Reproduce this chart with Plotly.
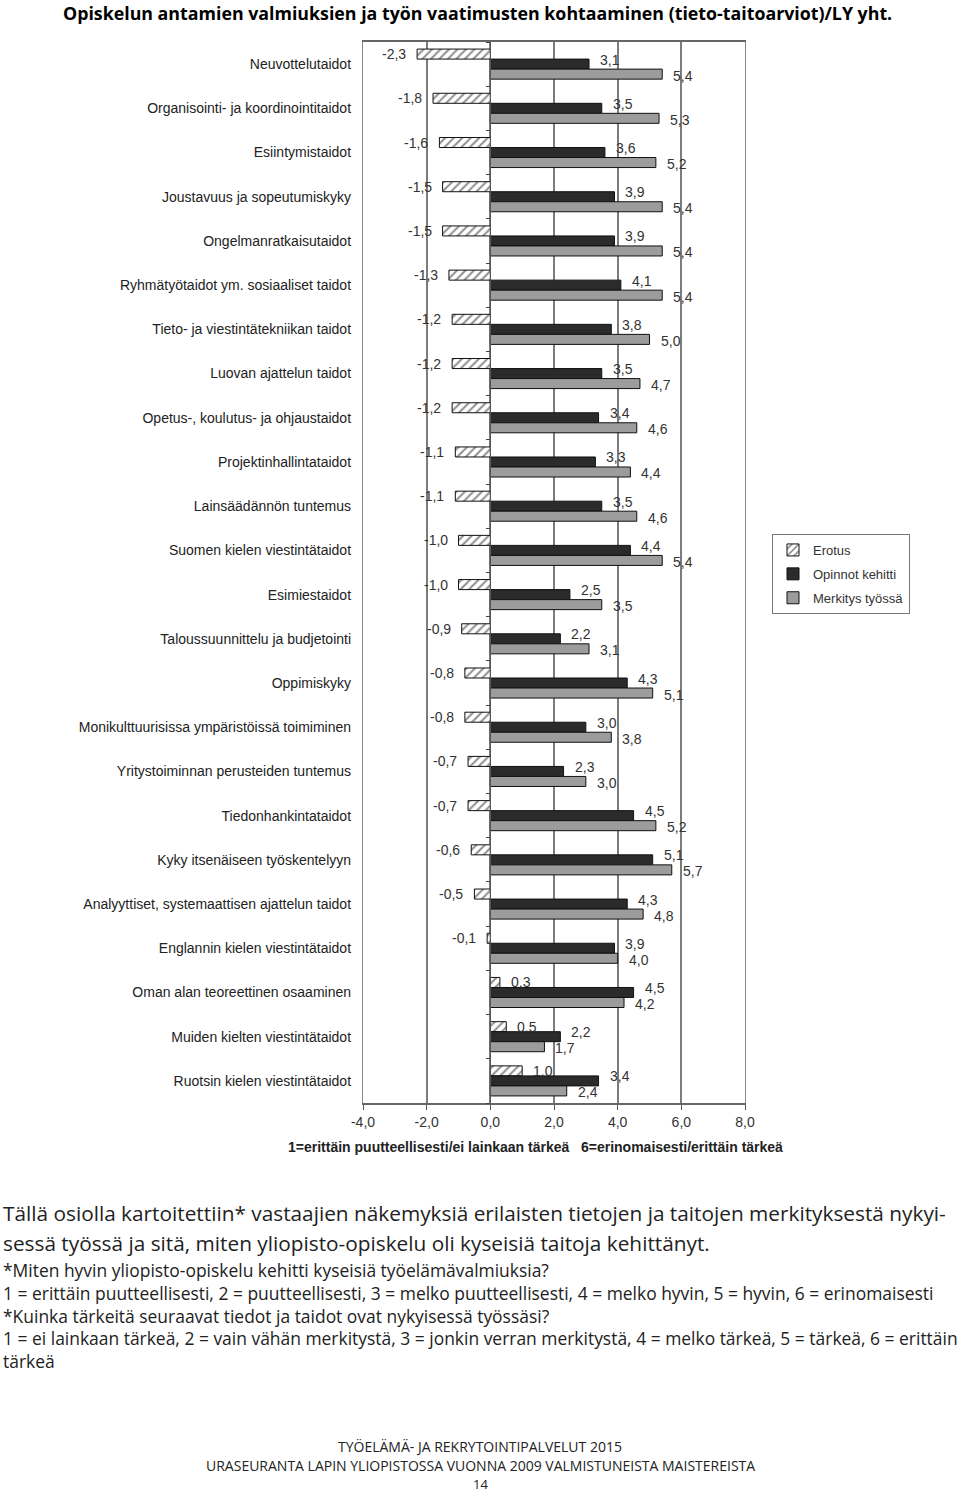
import plotly.graph_objects as go

W, H = 960, 1493

categories = [
    "Neuvottelutaidot",
    "Organisointi- ja koordinointitaidot",
    "Esiintymistaidot",
    "Joustavuus ja sopeutumiskyky",
    "Ongelmanratkaisutaidot",
    "Ryhmätyötaidot ym. sosiaaliset taidot",
    "Tieto- ja viestintätekniikan taidot",
    "Luovan ajattelun taidot",
    "Opetus-, koulutus- ja ohjaustaidot",
    "Projektinhallintataidot",
    "Lainsäädännön tuntemus",
    "Suomen kielen viestintätaidot",
    "Esimiestaidot",
    "Taloussuunnittelu ja budjetointi",
    "Oppimiskyky",
    "Monikulttuurisissa ympäristöissä toimiminen",
    "Yritystoiminnan perusteiden tuntemus",
    "Tiedonhankintataidot",
    "Kyky itsenäiseen työskentelyyn",
    "Analyyttiset, systemaattisen ajattelun taidot",
    "Englannin kielen viestintätaidot",
    "Oman alan teoreettinen osaaminen",
    "Muiden kielten viestintätaidot",
    "Ruotsin kielen viestintätaidot",
]

erotus = [-2.3, -1.8, -1.6, -1.5, -1.5, -1.3, -1.2, -1.2, -1.2, -1.1, -1.1, -1.0,
          -1.0, -0.9, -0.8, -0.8, -0.7, -0.7, -0.6, -0.5, -0.1, 0.3, 0.5, 1.0]
opinnot_kehitti = [3.1, 3.5, 3.6, 3.9, 3.9, 4.1, 3.8, 3.5, 3.4, 3.3, 3.5, 4.4,
                   2.5, 2.2, 4.3, 3.0, 2.3, 4.5, 5.1, 4.3, 3.9, 4.5, 2.2, 3.4]
merkitys_tyossa = [5.4, 5.3, 5.2, 5.4, 5.4, 5.4, 5.0, 4.7, 4.6, 4.4, 4.6, 5.4,
                   3.5, 3.1, 5.1, 3.8, 3.0, 5.2, 5.7, 4.8, 4.0, 4.2, 1.7, 2.4]

series_names = ["Erotus", "Opinnot kehitti", "Merkitys työssä"]

x_tickvals = [-4, -2, 0, 2, 4, 6, 8]
x_ticktext = ["-4,0", "-2,0", "0,0", "2,0", "4,0", "6,0", "8,0"]

title_text = "Opiskelun antamien valmiuksien ja työn vaatimusten kohtaaminen (tieto-taitoarviot)/LY yht."
axis_title = "1=erittäin puutteellisesti/ei lainkaan tärkeä   6=erinomaisesti/erittäin tärkeä"
body_lines = [
    "Tällä osiolla kartoitettiin* vastaajien näkemyksiä erilaisten tietojen ja taitojen merkityksestä nykyi-",
    "sessä työssä ja sitä, miten yliopisto-opiskelu oli kyseisiä taitoja kehittänyt.",
]
note_lines = [
    "*Miten hyvin yliopisto-opiskelu kehitti kyseisiä työelämävalmiuksia?",
    "1 = erittäin puutteellisesti, 2 = puutteellisesti, 3 = melko puutteellisesti, 4 = melko hyvin, 5 = hyvin, 6 = erinomaisesti",
    "*Kuinka tärkeitä seuraavat tiedot ja taidot ovat nykyisessä työssäsi?",
    "1 = ei lainkaan tärkeä, 2 = vain vähän merkitystä, 3 = jonkin verran merkitystä, 4 = melko tärkeä, 5 = tärkeä, 6 = erittäin",
    "tärkeä",
]
footer_lines = [
    "TYÖELÄMÄ- JA REKRYTOINTIPALVELUT 2015",
    "URASEURANTA LAPIN YLIOPISTOSSA VUONNA 2009 VALMISTUNEISTA MAISTEREISTA",
    "14",
]

CHART_FONT = "Liberation Sans, Arial, sans-serif"
TEXT_FONT = "Open Sans, sans-serif"


def fmt(v):
    return f"{v:.1f}".replace(".", ",")


def px_x(x):
    return x / W


def px_y(y):
    return 1 - y / H


fig = go.Figure()

styles = [
    dict(color="white", pattern=dict(shape="/", fgcolor="#222", size=6, solidity=0.35)),
    dict(color="#2b2b2b"),
    dict(color="#9c9c9c"),
]
all_series = [erotus, opinnot_kehitti, merkitys_tyossa]
for name, vals, st in zip(series_names, all_series, styles):
    fig.add_trace(go.Bar(
        name=name,
        legendgroup=name,
        y=categories,
        x=vals,
        orientation="h",
        marker=dict(line=dict(color="#111", width=1), **st),
        hoverinfo="x+y",
    ))

# empty trace holding the zero-position category axis
fig.add_trace(go.Scatter(x=[], y=[], yaxis="y2", showlegend=False, hoverinfo="skip"))

x0_dom, x1_dom = px_x(363), px_x(745)
y0_dom, y1_dom = px_y(1103), px_y(42)
n = len(categories)
zero_pos = x0_dom + (x1_dom - x0_dom) * (0 - (-4)) / 12

fig.update_layout(
    width=W, height=H,
    margin=dict(l=0, r=0, t=0, b=0),
    paper_bgcolor="white", plot_bgcolor="white",
    barmode="group", bargap=0.32, bargroupgap=0,
    font=dict(family=CHART_FONT, color="#333"),
    showlegend=True,
    legend=dict(
        x=px_x(772), y=px_y(534), xanchor="left", yanchor="top",
        bordercolor="#777", borderwidth=1, bgcolor="white",
        font=dict(family=CHART_FONT, size=13, color="#333"),
        traceorder="grouped", itemwidth=30, tracegroupgap=4,
    ),
    xaxis=dict(
        domain=[x0_dom, x1_dom], range=[-4, 8],
        tickvals=x_tickvals, ticktext=x_ticktext,
        tickfont=dict(family=CHART_FONT, size=14, color="#333"),
        showgrid=True, gridcolor="#7c7c7c", gridwidth=1.5,
        zeroline=False,
        showline=True, linecolor="#666", linewidth=1.5, mirror=True,
        ticks="outside", ticklen=5, tickcolor="#555",
        automargin=False,
    ),
    yaxis=dict(
        domain=[y0_dom, y1_dom],
        type="category", range=[n - 0.5, -0.5],
        tickfont=dict(family=CHART_FONT, size=14, color="#222"),
        showline=True, linecolor="#888", linewidth=1.3, mirror=True,
        ticks="", ticklabelstandoff=8,
        automargin=False, showgrid=False,
    ),
    yaxis2=dict(
        overlaying="y", anchor="free", position=zero_pos,
        range=[n - 0.5, -0.5], showgrid=False, zeroline=False,
        tickvals=[i + 0.5 for i in range(-1, n)],
        showticklabels=False, ticks="outside", ticklen=4, tickcolor="#444",
        showline=True, linecolor="#555", linewidth=1.2,
    ),
)

ann = []
# value labels, positioned relative to each bar through the data axes
bar_yshift = [10.0, 4.5, -11.5]
for vals, ys in zip(all_series, bar_yshift):
    for cat, v in zip(categories, vals):
        ann.append(dict(
            text=fmt(v), x=v, y=cat, xref="x", yref="y",
            xanchor="right" if v < 0 else "left", yanchor="middle",
            xshift=-9 if v < 0 else 9, yshift=ys,
            showarrow=False, font=dict(family=CHART_FONT, size=14, color="#333"),
        ))

ann.append(dict(text="<b>" + title_text + "</b>", x=px_x(477), y=px_y(13), xanchor="center",
                yanchor="middle", font=dict(family=TEXT_FONT, size=17.8, color="black"),
                showarrow=False, xref="paper", yref="paper"))
ann.append(dict(text="<b>" + axis_title + "</b>", x=px_x(535), y=px_y(1147), xanchor="center",
                yanchor="middle", font=dict(family=CHART_FONT, size=14, color="#222"),
                showarrow=False, xref="paper", yref="paper"))
for i, line in enumerate(body_lines):
    ann.append(dict(text=line, x=px_x(1), y=px_y(1213 + 30 * i), xanchor="left", yanchor="middle",
                    font=dict(family=TEXT_FONT, size=20.8, color="#222"), showarrow=False,
                    xref="paper", yref="paper"))
for i, line in enumerate(note_lines):
    ann.append(dict(text=line, x=px_x(1), y=px_y(1270 + 22.8 * i), xanchor="left", yanchor="middle",
                    font=dict(family=TEXT_FONT, size=17.45, color="#222"), showarrow=False,
                    xref="paper", yref="paper"))
footer_y = [1446, 1465, 1484]
footer_size = [14, 14, 13]
for line, fy, fs in zip(footer_lines, footer_y, footer_size):
    ann.append(dict(text=line, x=px_x(480), y=px_y(fy), xanchor="center", yanchor="middle",
                    font=dict(family=TEXT_FONT, size=fs, color="#222"), showarrow=False,
                    borderpad=0, xref="paper", yref="paper"))
fig.update_layout(annotations=ann)

fig.write_html(
    "out.html",
    config={"displayModeBar": False},
    post_script="document.body.style.margin='0';document.body.style.overflow='hidden';",
)
